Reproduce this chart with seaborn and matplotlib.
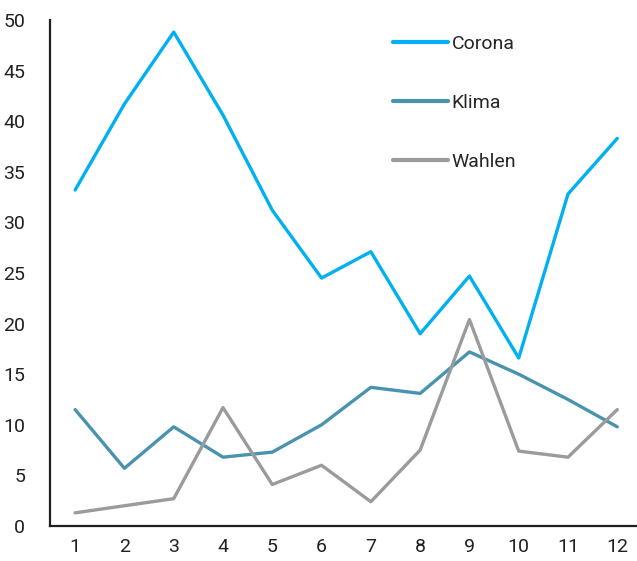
import numpy as np
import pandas as pd
import matplotlib
matplotlib.use("Agg")
import matplotlib.pyplot as plt
import seaborn as sns

# Data
months = list(range(1, 13))
corona = [33.2, 41.7, 48.8, 40.6, 31.2, 24.5, 27.1, 19.0, 24.7, 16.6, 32.8, 38.3]
klima = [11.5, 5.7, 9.8, 6.8, 7.3, 10.0, 13.7, 13.1, 17.2, 15.0, 12.5, 9.8]
wahlen = [1.3, 2.0, 2.7, 11.7, 4.1, 6.0, 2.4, 7.5, 20.4, 7.4, 6.8, 11.5]
series_names = ["Corona", "Klima", "Wahlen"]
colors = ["#00b0f0", "#4a93ae", "#9a9b9d"]

df = pd.DataFrame({"x": months * 3,
                   "value": corona + klima + wahlen,
                   "series": np.repeat(series_names, 12)})

sns.set_style("white")
plt.rcParams['font.family'] = ['Roboto', 'DejaVu Sans']

fig = plt.figure(figsize=(6.37, 5.61), dpi=100)
ax = fig.add_axes([0.0785, 0.0624, 0.9215, 0.902])

sns.lineplot(data=df, x="x", y="value", hue="series", palette=colors,
             linewidth=2.4, ax=ax)

ax.set_xlim(0.49, 12.4)
ax.set_ylim(0, 50)
ax.set_xticks(months)
ax.set_yticks(range(0, 51, 5))
ax.set_xlabel("")
ax.set_ylabel("")
ax.tick_params(length=0, labelsize=14, colors="#231f20")
ax.tick_params(axis="x", pad=9)
ax.tick_params(axis="y", pad=18)
for side in ["top", "right"]:
    ax.spines[side].set_visible(False)
for side in ["left", "bottom"]:
    ax.spines[side].set_linewidth(1.6)
    ax.spines[side].set_color("#231f20")

leg = ax.legend(loc="upper left", bbox_to_anchor=(0.555, 1.005), frameon=False,
                fontsize=14, handlelength=2.8, handletextpad=0.2, labelspacing=2.1)
for line in leg.get_lines():
    line.set_linewidth(3)
    line.set_solid_capstyle("round")

fig.savefig("out.png", dpi=100)
